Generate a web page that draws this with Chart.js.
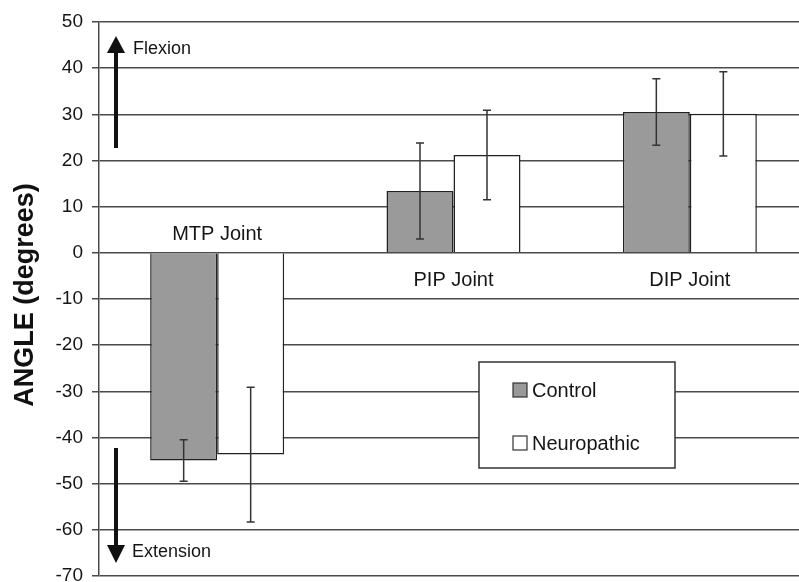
<!DOCTYPE html>
<html lang="en">
<head>
    <meta charset="UTF-8">
    <title>Joint Angles</title>
    <script src="https://cdn.jsdelivr.net/npm/chart.js"></script>
    <style>
        body {
            margin: 0;
            padding: 0;
            background: #fff;
            overflow: hidden;
        }
        #wrap {
            width: 810px;
            height: 582px;
        }
    </style>
</head>
<body>
    <div id="wrap"><canvas id="angleChart" width="810" height="582"></canvas></div>

    <script>
        // data
        const joints = ['MTP Joint', 'PIP Joint', 'DIP Joint'];
        const controlMean = [-45, 13.4, 30.5];
        const controlErr = [4.5, 10.4, 7.2];
        const neuroMean = [-43.7, 21.2, 30.1];
        const neuroErr = [14.6, 9.7, 9.1];
        const yMin = -70;
        const yMax = 50;
        const yStep = 10;

        const FONT = '"Liberation Sans", Arial, sans-serif';
        const INK = '#151515';

        // error bars, joint names, arrows, legend box, axis title
        const extras = {
            id: 'extras',
            afterDatasetsDraw(chart) {
                const ctx = chart.ctx;
                const y = chart.scales.y;
                const errs = [controlErr, neuroErr];
                ctx.save();
                ctx.strokeStyle = '#333';
                ctx.lineWidth = 1.5;
                chart.data.datasets.forEach((ds, i) => {
                    chart.getDatasetMeta(i).data.forEach((bar, j) => {
                        const v = ds.data[j];
                        const top = y.getPixelForValue(v + errs[i][j]);
                        const bot = y.getPixelForValue(v - errs[i][j]);
                        ctx.beginPath();
                        ctx.moveTo(bar.x, top);
                        ctx.lineTo(bar.x, bot);
                        ctx.moveTo(bar.x - 4, top);
                        ctx.lineTo(bar.x + 4, top);
                        ctx.moveTo(bar.x - 4, bot);
                        ctx.lineTo(bar.x + 4, bot);
                        ctx.stroke();
                    });
                });
                ctx.restore();
            },
            afterDraw(chart) {
                const ctx = chart.ctx;
                const x = chart.scales.x;
                const y = chart.scales.y;
                const area = chart.chartArea;
                ctx.save();
                ctx.fillStyle = INK;

                // joint names: above zero for negative groups, below for positive
                ctx.font = '20px ' + FONT;
                ctx.textAlign = 'center';
                ctx.textBaseline = 'middle';
                const zero = y.getPixelForValue(0);
                joints.forEach((name, j) => {
                    const cx = x.getPixelForValue(j);
                    const neg = controlMean[j] < 0;
                    ctx.fillText(name, cx, neg ? zero - 18 : zero + 28);
                });

                // direction arrows
                const ax = area.left + 17;
                ctx.fillStyle = '#111';
                ctx.fillRect(ax - 2, 50, 4, 98);
                ctx.beginPath();
                ctx.moveTo(ax, 36);
                ctx.lineTo(ax - 9, 53);
                ctx.lineTo(ax + 9, 53);
                ctx.closePath();
                ctx.fill();
                ctx.fillRect(ax - 2, 448, 4, 99);
                ctx.beginPath();
                ctx.moveTo(ax, 563);
                ctx.lineTo(ax - 9, 545);
                ctx.lineTo(ax + 9, 545);
                ctx.closePath();
                ctx.fill();
                ctx.fillStyle = INK;
                ctx.font = '18px ' + FONT;
                ctx.textAlign = 'left';
                ctx.fillText('Flexion', ax + 17, 49);
                ctx.fillText('Extension', ax + 16, 552);

                // legend box
                const lx = 479, ly = 362, lw = 196, lh = 106;
                ctx.fillStyle = '#fff';
                ctx.fillRect(lx, ly, lw, lh);
                ctx.strokeStyle = '#333';
                ctx.lineWidth = 1.5;
                ctx.strokeRect(lx, ly, lw, lh);
                ctx.font = '20px ' + FONT;
                const rows = [390, 443];
                chart.data.datasets.forEach((ds, i) => {
                    ctx.fillStyle = ds.backgroundColor;
                    ctx.fillRect(lx + 34, rows[i] - 7, 14, 14);
                    ctx.strokeStyle = '#333';
                    ctx.lineWidth = 1.2;
                    ctx.strokeRect(lx + 34, rows[i] - 7, 14, 14);
                    ctx.fillStyle = INK;
                    ctx.fillText(ds.label, lx + 53, rows[i] + 1);
                });

                // y axis title
                ctx.translate(26, 295);
                ctx.rotate(-Math.PI / 2);
                ctx.textAlign = 'center';
                ctx.font = 'bold 27px ' + FONT;
                ctx.fillStyle = '#111';
                ctx.fillText('ANGLE (degrees)', 0, 0);
                ctx.restore();
            }
        };

        const ctx = document.getElementById('angleChart').getContext('2d');
        new Chart(ctx, {
            type: 'bar',
            data: {
                labels: joints,
                datasets: [{
                    label: 'Control',
                    data: controlMean,
                    backgroundColor: '#9a9a9a',
                    borderColor: '#222',
                    borderWidth: 1.5,
                    categoryPercentage: 0.567,
                    barPercentage: 1.0
                }, {
                    label: 'Neuropathic',
                    data: neuroMean,
                    backgroundColor: '#ffffff',
                    borderColor: '#222',
                    borderWidth: 1.5,
                    categoryPercentage: 0.567,
                    barPercentage: 1.0
                }]
            },
            options: {
                responsive: false,
                animation: false,
                layout: { padding: { top: 22, bottom: 6, left: 0, right: 2 } },
                plugins: {
                    legend: { display: false },
                    tooltip: { enabled: false }
                },
                scales: {
                    x: {
                        display: false
                    },
                    y: {
                        min: yMin,
                        max: yMax,
                        afterFit(scale) {
                            scale.width = 99;
                            scale.paddingTop = 0;
                            scale.paddingBottom = 0;
                        },
                        ticks: {
                            stepSize: yStep,
                            padding: 9,
                            color: INK,
                            font: { family: FONT, size: 19 }
                        },
                        grid: {
                            color: '#4a4a4a',
                            lineWidth: 1.5,
                            tickLength: 7
                        },
                        border: { color: '#4a4a4a', width: 1.5 }
                    }
                }
            },
            plugins: [extras]
        });
    </script>
</body>
</html>
